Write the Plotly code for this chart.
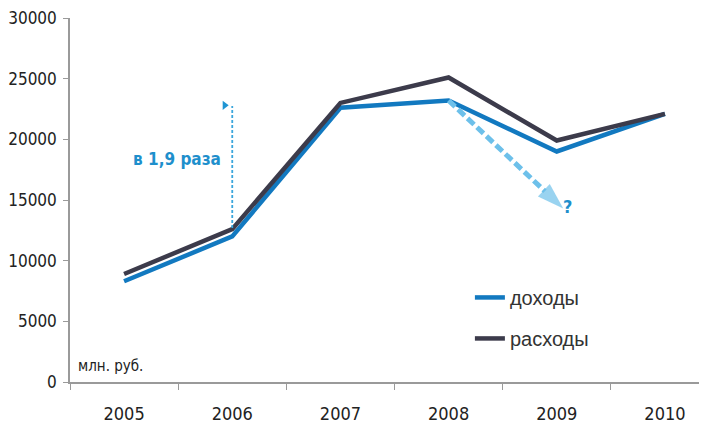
import plotly.graph_objects as go

years = ["2005", "2006", "2007", "2008", "2009", "2010"]
income = [8300, 12000, 22600, 23200, 19000, 22100]
expenses = [8900, 12600, 23000, 25100, 19900, 22100]
y_ticks = [0, 5000, 10000, 15000, 20000, 25000, 30000]
y_tick_text = ["0", "5000", "10000", "15000", "20000", "25000", "30000"]

BLUE = "#1279c0"
DARK = "#3c3b4b"
LIGHT = "#6dc0ea"
NARROW = "DejaVu Sans Condensed, Liberation Sans Narrow, Arial Narrow, sans-serif"
XR = [-0.5, 5.463]

fig = go.Figure()
fig.add_trace(go.Scatter(x=years, y=income, mode="lines", name="доходы",
                         line=dict(color=BLUE, width=4.5), legendgroup="a"))
fig.add_trace(go.Scatter(x=years, y=expenses, mode="lines", name="расходы",
                         line=dict(color=DARK, width=4.5), legendgroup="b"))

# dashed forecast arrow from 2008 income point
fig.add_trace(go.Scatter(x=[3, 4.06], y=[income[3], 14300], mode="lines+markers", xaxis="x2",
                         line=dict(color=LIGHT, width=5, dash="9px,4px"),
                         marker=dict(symbol=["circle", "arrow"], size=[0, 28], color=LIGHT,
                                     angleref="previous", line=dict(width=0)),
                         showlegend=False, hoverinfo="skip"))
# dotted vertical arrow at 2006
fig.add_trace(go.Scatter(x=[1, 1], y=[12700, 22750], mode="lines", xaxis="x2",
                         line=dict(color="#3aa6dc", width=1.8, dash="3px,2px"),
                         showlegend=False, hoverinfo="skip"))
fig.add_trace(go.Scatter(x=[0.93], y=[22800], mode="markers", xaxis="x2",
                         marker=dict(symbol="triangle-right", size=8, color="#1f95d3"),
                         showlegend=False, hoverinfo="skip"))

fig.add_annotation(x=0.49, y=18400, xref="x2", text="<b>в 1,9 раза</b>", showarrow=False,
                   font=dict(family=NARROW, size=17, color="#1e8fcc"))
fig.add_annotation(x=4.1, y=14500, xref="x2", text="<b>?</b>", showarrow=False,
                   font=dict(family=NARROW, size=18, color="#1e8fcc"))
fig.add_annotation(xref="paper", yref="paper", x=0.01, y=0.015, xanchor="left", yanchor="bottom",
                   text="млн. руб.", showarrow=False,
                   font=dict(family=NARROW, size=15, color="#222"))

fig.update_layout(
    width=707, height=430,
    margin=dict(l=62, r=0, t=10, b=56, autoexpand=False),
    paper_bgcolor="white", plot_bgcolor="white",
    showlegend=True,
    legend=dict(x=0.62, y=0.176, xanchor="left", yanchor="middle",
                traceorder="grouped", tracegroupgap=12,
                font=dict(family="Liberation Sans, Arial, sans-serif", size=20, color="#333"),
                bgcolor="rgba(0,0,0,0)"),
    xaxis=dict(type="category", range=XR, showline=True, linecolor="#9a9a9a",
               linewidth=1.5, ticks="outside", tickson="boundaries", ticklen=6,
               tickcolor="#9a9a9a", showgrid=False, zeroline=False, automargin=False,
               ticklabeloverflow="allow",
               tickfont=dict(family=NARROW, size=18, color="#222"), ticklabelstandoff=15),
    xaxis2=dict(range=XR, overlaying="x", visible=False),
    yaxis=dict(range=[0, 30000], tickvals=y_ticks, ticktext=y_tick_text, showline=True,
               linecolor="#9a9a9a", automargin=False, ticklabeloverflow="allow",
               linewidth=1.5, ticks="outside", ticklen=5, tickcolor="#9a9a9a",
               showgrid=False, zeroline=False, ticklabelstandoff=3,
               tickfont=dict(family=NARROW, size=17, color="#222")),
)

fig.write_html("out.html")
